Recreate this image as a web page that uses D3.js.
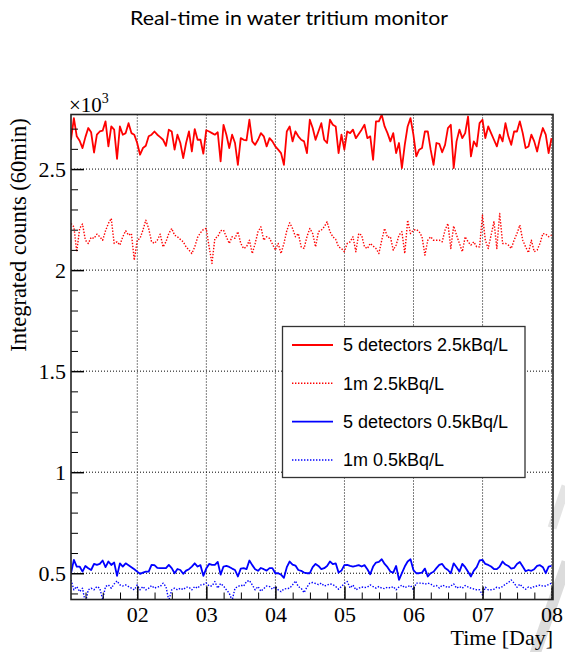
<!DOCTYPE html>
<html>
<head>
<meta charset="utf-8">
<script src="https://cdn.jsdelivr.net/npm/d3@7/dist/d3.min.js"></script>
<style>
  html, body { margin: 0; padding: 0; background: #fff; }
  svg { display: block; }
</style>
</head>
<body>
<svg id="chart" width="565" height="652"></svg>
<script>
// ---------------- DATA (integrated counts per 60 min, hourly samples) ----------------
const startDay = 1.04;           // first sample, in days
const samplesPerDay = 24;        // hourly
const seriesNames = ["5 detectors 2.5kBq/L", "1m 2.5kBq/L", "5 detectors 0.5kBq/L", "1m 0.5kBq/L"];
const xTickDays = [2, 3, 4, 5, 6, 7, 8];
const xTickLabels = ["02", "03", "04", "05", "06", "07", "08"];
const yTickValues = [500, 1000, 1500, 2000, 2500];
const yTickLabels = ["0.5", "1", "1.5", "2", "2.5"];

const red5det = [2645,2752,2662,2640,2604,2658,2703,2682,2582,2670,2686,2690,2736,2612,2711,2695,2550,2711,2670,2678,2727,2678,2670,2629,
2571,2604,2615,2662,2670,2686,2670,2658,2645,2615,2695,2686,2596,2670,2629,2554,2629,2686,2587,2698,2645,2645,2576,2692,
2686,2678,2670,2682,2538,2719,2670,2604,2670,2629,2521,2653,2645,2642,2744,2637,2620,2645,2678,2662,2612,2653,2637,2612,
2596,2579,2521,2686,2711,2637,2686,2662,2645,2637,2579,2744,2703,2645,2686,2727,2645,2629,2744,2719,2711,2579,2670,2596,
2686,2678,2695,2653,2674,2695,2719,2653,2662,2546,2736,2736,2769,2711,2678,2637,2678,2579,2629,2505,2620,2711,2752,2670,
2563,2596,2604,2686,2686,2596,2521,2629,2625,2583,2620,2703,2719,2505,2637,2695,2653,2678,2760,2563,2637,2612,2727,2744,
2653,2711,2678,2645,2612,2670,2637,2727,2662,2620,2686,2686,2736,2678,2604,2612,2670,2637,2587,2653,2703,2670,2579,2653];

const red1m = [2231,2214,2091,2206,2228,2148,2132,2162,2157,2178,2165,2148,2195,2231,2256,2132,2140,2124,2165,2195,2173,2181,2049,2148,
2157,2198,2247,2206,2140,2132,2148,2178,2115,2140,2181,2206,2173,2165,2152,2140,2115,2099,2082,2115,2162,2185,2201,2206,
2115,2033,2157,2165,2195,2198,2165,2132,2165,2157,2190,2132,2107,2115,2148,2082,2132,2190,2214,2148,2165,2157,2129,2099,
2132,2082,2132,2195,2234,2206,2165,2181,2115,2107,2165,2206,2181,2115,2190,2198,2214,2239,2190,2165,2152,2115,2107,2091,
2132,2140,2165,2091,2181,2173,2115,2107,2132,2119,2107,2082,2148,2206,2162,2165,2099,2124,2173,2190,2082,2247,2181,2198,
2201,2190,2165,2074,2148,2165,2148,2148,2148,2140,2198,2231,2107,2218,2173,2132,2091,2165,2140,2124,2140,2115,2115,2272,
2148,2107,2173,2239,2107,2280,2132,2132,2124,2107,2148,2181,2223,2148,2115,2086,2148,2091,2099,2132,2181,2178,2165,2173];

const blue5det = [500,566,533,533,508,536,525,516,546,541,546,563,530,558,541,553,487,549,533,549,540,530,520,508,
497,503,508,508,541,540,526,525,525,525,541,525,500,521,516,497,513,520,533,549,533,540,487,523,
546,541,541,556,493,533,536,531,523,516,484,523,525,520,563,540,520,512,526,520,513,525,525,500,
500,493,477,530,558,543,538,516,512,503,500,500,530,546,536,520,525,536,558,545,549,503,513,540,
541,536,533,536,540,533,540,520,495,533,553,556,569,546,530,508,503,536,467,500,533,558,569,516,
500,500,503,523,484,500,507,525,541,546,526,516,500,549,530,508,546,530,507,484,513,530,563,566,
546,541,533,521,520,533,558,543,536,523,526,546,556,533,510,516,512,520,536,540,530,500,533,536];

const blue1m = [467,418,434,409,426,352,418,426,418,434,426,371,434,442,426,447,462,442,437,442,434,426,418,442,
418,434,418,426,439,426,432,434,451,434,365,418,426,418,426,419,431,431,418,434,426,441,444,452,
437,437,459,426,449,437,418,401,365,426,434,441,436,459,464,442,418,434,411,424,437,434,421,434,
418,409,422,424,426,442,462,434,426,404,431,451,454,449,444,451,437,441,447,444,434,421,434,449,
459,427,442,418,426,432,429,431,442,434,426,434,426,424,431,427,434,418,432,441,429,434,439,418,
451,451,451,446,451,447,436,439,427,441,436,429,437,447,426,434,426,439,432,426,422,418,418,393,
431,418,418,421,431,427,434,446,454,467,451,431,446,431,421,432,427,434,437,441,436,437,444,451];

const seriesColors = ["#ff0000", "#ff0000", "#0000ff", "#0000ff"];
const seriesDashed = [false, true, false, true];

// ---------------- LAYOUT ----------------
const svg = d3.select("#chart");
const plot = { left: 71, right: 553, top: 114.5, bottom: 599.5 };

const x = d3.scaleLinear().domain([1.04, 8.02]).range([plot.left, plot.right]);
const y = d3.scaleLinear().domain([370, 2770]).range([plot.bottom, plot.top]);

const serif = "'Liberation Serif','Times New Roman',serif";
const sans = "'Liberation Sans',Arial,Helvetica,sans-serif";

// Title
svg.append("text")
  .attr("x", 289).attr("y", 24.5)
  .attr("text-anchor", "middle")
  .attr("font-family", "Lato,'Open Sans',sans-serif")
  .attr("font-size", 20)
  .attr("textLength", 318).attr("lengthAdjust", "spacingAndGlyphs")
  .attr("fill", "#000")
  .text("Real-time in water tritium monitor");

// Watermark (faint gray strokes at bottom right)
svg.append("path").attr("d", "M567,562 L535,654").attr("stroke", "#dcdcdc").attr("stroke-width", 11).attr("fill", "none");
svg.append("path").attr("d", "M566,486 L552,528").attr("stroke", "#e4e4e4").attr("stroke-width", 9).attr("fill", "none");

// Grid
const grid = svg.append("g").attr("stroke", "#000").attr("stroke-width", 1).attr("stroke-dasharray", "1,2").attr("fill", "none");
xTickDays.forEach(d => {
  grid.append("line").attr("x1", x(d)).attr("x2", x(d)).attr("y1", plot.top).attr("y2", plot.bottom);
});
yTickValues.forEach(v => {
  grid.append("line").attr("x1", plot.left).attr("x2", plot.right).attr("y1", y(v)).attr("y2", y(v));
});

// Clip
svg.append("defs").append("clipPath").attr("id", "clip")
  .append("rect").attr("x", plot.left).attr("y", plot.top)
  .attr("width", plot.right - plot.left).attr("height", plot.bottom - plot.top);

// Lines
const allSeries = [red5det, red1m, blue5det, blue1m];
const line = d3.line()
  .x((d, i) => x(startDay + i / samplesPerDay))
  .y(d => y(d));

const lines = svg.append("g").attr("clip-path", "url(#clip)");
allSeries.forEach((s, k) => {
  lines.append("path")
    .datum(s)
    .attr("d", line)
    .attr("fill", "none")
    .attr("stroke", seriesColors[k])
    .attr("stroke-width", seriesDashed[k] ? 1.4 : 1.8)
    .attr("stroke-dasharray", seriesDashed[k] ? "1.4,1.6" : null)
    .attr("stroke-linejoin", "round");
});

// Axes: y
const yMinor = d3.range(400, 2800, 100).filter(v => v % 500 !== 0);
svg.append("g").attr("transform", `translate(${plot.left},0)`)
  .call(d3.axisLeft(y).tickValues(yMinor).tickSize(-7).tickFormat(""))
  .call(g => g.select(".domain").remove())
  .call(g => g.selectAll("line").attr("stroke", "#000").attr("stroke-width", 1));
svg.append("g").attr("transform", `translate(${plot.left},0)`)
  .call(d3.axisLeft(y).tickValues(yTickValues).tickSize(-13).tickPadding(5)
        .tickFormat((d, i) => yTickLabels[i]))
  .call(g => g.select(".domain").remove())
  .call(g => g.selectAll("line").attr("stroke", "#000").attr("stroke-width", 1.5))
  .call(g => g.selectAll("text").attr("font-family", serif).attr("font-size", 22).attr("fill", "#000"));

// Axes: x
const xMinor = d3.range(1.25, 8.01, 0.25).filter(v => Math.abs(v - Math.round(v)) > 1e-6);
svg.append("g").attr("transform", `translate(0,${plot.bottom})`)
  .call(d3.axisBottom(x).tickValues(xMinor).tickSize(-7).tickFormat(""))
  .call(g => g.select(".domain").remove())
  .call(g => g.selectAll("line").attr("stroke", "#000").attr("stroke-width", 1));
svg.append("g").attr("transform", `translate(0,${plot.bottom})`)
  .call(d3.axisBottom(x).tickValues(xTickDays).tickSize(-13).tickPadding(7)
        .tickFormat((d, i) => xTickLabels[i]))
  .call(g => g.select(".domain").remove())
  .call(g => g.selectAll("line").attr("stroke", "#000").attr("stroke-width", 1.5))
  .call(g => g.selectAll("text").attr("font-family", serif).attr("font-size", 22).attr("fill", "#000"));

// Frame
svg.append("rect")
  .attr("x", plot.left).attr("y", plot.top)
  .attr("width", plot.right - plot.left).attr("height", plot.bottom - plot.top)
  .attr("fill", "none").attr("stroke", "#222").attr("stroke-width", 1.6);

// Axis titles
svg.append("text")
  .attr("transform", `translate(26,${(115 + 355) / 2}) rotate(-90)`)
  .attr("text-anchor", "middle")
  .attr("font-family", serif).attr("font-size", 22.5).attr("fill", "#000")
  .text("Integrated counts (60min)");

svg.append("text")
  .attr("x", 553).attr("y", 645)
  .attr("text-anchor", "end")
  .attr("font-family", serif).attr("font-size", 22).attr("fill", "#000")
  .text("Time [Day]");

// ×10^3
const expo = svg.append("text")
  .attr("x", 69).attr("y", 112)
  .attr("font-family", serif).attr("font-size", 21).attr("fill", "#000");
expo.append("tspan").text("×10");
expo.append("tspan").attr("font-size", 14).attr("dy", -9).text("3");

// Legend
const legend = svg.append("g");
legend.append("rect")
  .attr("x", 282.5).attr("y", 326.5).attr("width", 242.5).attr("height", 151)
  .attr("fill", "#fff").attr("stroke", "#333").attr("stroke-width", 1.3);
const rowY = [345, 383.3, 421.7, 460];
seriesNames.forEach((name, k) => {
  legend.append("line")
    .attr("x1", 292).attr("x2", 333).attr("y1", rowY[k]).attr("y2", rowY[k])
    .attr("stroke", seriesColors[k])
    .attr("stroke-width", seriesDashed[k] ? 1.4 : 1.8)
    .attr("stroke-dasharray", seriesDashed[k] ? "1.4,1.6" : null);
  legend.append("text")
    .attr("x", 343).attr("y", rowY[k]).attr("dy", "0.36em")
    .attr("font-family", sans).attr("font-size", 18).attr("fill", "#000")
    .text(name);
});
</script>
</body>
</html>
